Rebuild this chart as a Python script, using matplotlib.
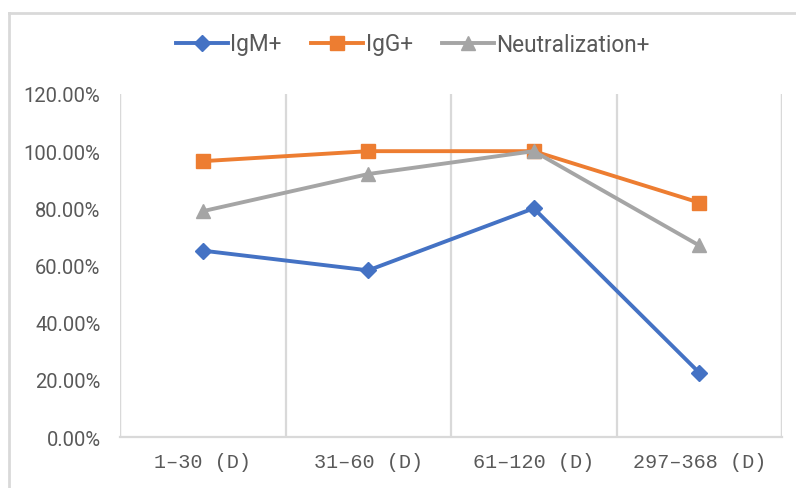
import matplotlib
matplotlib.use("Agg")
import matplotlib.pyplot as plt
from matplotlib.lines import Line2D
from matplotlib.ticker import FuncFormatter, MultipleLocator

categories = ["1\u201330 (D)", "31\u201360 (D)", "61\u2013120 (D)", "297\u2013368 (D)"]
igm = [65.2, 58.3, 80.0, 22.5]
igg = [96.5, 100.0, 100.0, 82.0]
neut = [79.0, 92.0, 100.0, 67.0]
y_ticks = [0, 20, 40, 60, 80, 100, 120]

plt.rcParams['font.family'] = ['Roboto', 'DejaVu Sans']

fig = plt.figure(figsize=(7.96, 4.89), dpi=100)
ax = fig.add_axes([120/796, 1-438/489, (782-120)/796, (438-95)/489])

x = list(range(len(categories)))
ax.plot(x, igm, color="#4472C4", lw=2.8, marker="D", ms=8, label="IgM+", zorder=3)
ax.plot(x, igg, color="#ED7D31", lw=2.8, marker="s", ms=9.5, label="IgG+", zorder=3)
ax.plot(x, neut, color="#A5A5A5", lw=2.8, marker="^", ms=10, label="Neutralization+", zorder=3)

ax.set_xlim(-0.5, len(categories) - 0.5)
ax.set_ylim(0, 120)
ax.set_yticks(y_ticks)
ax.yaxis.set_major_formatter(FuncFormatter(lambda v, p: f"{v:.2f}%"))
ax.set_xticks(x)
ax.set_xticklabels(categories, family=["Liberation Mono", "DejaVu Sans Mono"], fontsize=14.5)
ax.tick_params(axis="both", length=0, colors="#595959")
ax.tick_params(axis="y", labelsize=14.5, pad=14)
ax.tick_params(axis="x", pad=11)

# vertical gridlines at category boundaries
ax.xaxis.set_minor_locator(MultipleLocator(1, offset=0.5))
ax.grid(True, which="minor", axis="x", color="#D9D9D9", lw=1.6)
ax.tick_params(axis="x", which="minor", length=0)
for s in ["top", "right", "left"]:
    ax.spines[s].set_visible(False)
ax.spines["bottom"].set_color("#D9D9D9")
ax.spines["bottom"].set_linewidth(1.6)
ax.axvline(-0.5, color="#D9D9D9", lw=1.6, zorder=1)
ax.axvline(len(categories) - 0.5, color="#D9D9D9", lw=1.6, zorder=1)

leg = fig.legend(loc="center", bbox_to_anchor=(413/796, 1-45/489), ncol=3, frameon=False,
                 fontsize=16.3, handlelength=2.3, columnspacing=1.3, handletextpad=0.1)
for t in leg.get_texts():
    t.set_color("#595959")

# outer chart border (left and top visible)
fig.add_artist(Line2D([9/796, 9/796], [0, 1-14/489], transform=fig.transFigure, color="#D9D9D9", lw=2))
fig.add_artist(Line2D([9/796, 1], [1-14/489, 1-14/489], transform=fig.transFigure, color="#D9D9D9", lw=2))

fig.savefig("out.png", dpi=100)
